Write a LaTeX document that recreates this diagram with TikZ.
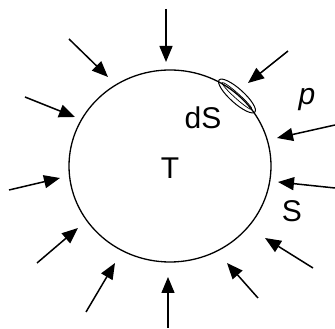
\documentclass[tikz,border=0pt]{standalone}
\usepackage{fontspec}
\setmainfont{Liberation Sans}
\usetikzlibrary{arrows.meta}
\begin{document}
\begin{tikzpicture}[x=1pt,y=1pt,
  push/.style={line width=1.5pt,-{Triangle[length=16pt,width=13pt]}},
  body/.style={line width=1.3pt},
  lbl/.style={font=\fontsize{30}{32}\selectfont,inner sep=0pt}]
\useasboundingbox (0,0) rectangle (335,329);
% body T
\draw[body] (170,163) ellipse [x radius=101, y radius=96];
% surface element dS
\draw[line width=1pt] (237,233) ellipse [x radius=24, y radius=7, rotate=-42];
\draw[line width=0.7pt] (237,233) ellipse [x radius=20, y radius=2.5, rotate=-42];
% arrow end points
\coordinate (a1) at (166,320); \coordinate (b1) at (166,267);
\coordinate (a2) at (69,290);  \coordinate (b2) at (108,252);
\coordinate (a3) at (25,232);  \coordinate (b3) at (75,212);
\coordinate (a4) at (9,139);   \coordinate (b4) at (60,151);
\coordinate (a5) at (37,66);   \coordinate (b5) at (78,101);
\coordinate (a6) at (86,17);   \coordinate (b6) at (115,66);
\coordinate (a7) at (168,1);   \coordinate (b7) at (168,52);
\coordinate (a8) at (258,31);  \coordinate (b8) at (227,66);
\coordinate (a9) at (313,61);  \coordinate (b9) at (265,91);
\coordinate (a10) at (335,141); \coordinate (b10) at (278,147);
\coordinate (a11) at (335,204); \coordinate (b11) at (277,191);
\coordinate (a12) at (288,278); \coordinate (b12) at (248,246);
\foreach \i in {1,...,12} \draw[push] (a\i) -- (b\i);
% labels
\node[lbl] (dS) at (203,211) {dS};
\node[lbl] (T) at (170,161) {T};
\node[lbl] (p) at (307,229) {\itshape p};
\node[lbl] (S) at (292,118) {S};
\end{tikzpicture}
\end{document}
